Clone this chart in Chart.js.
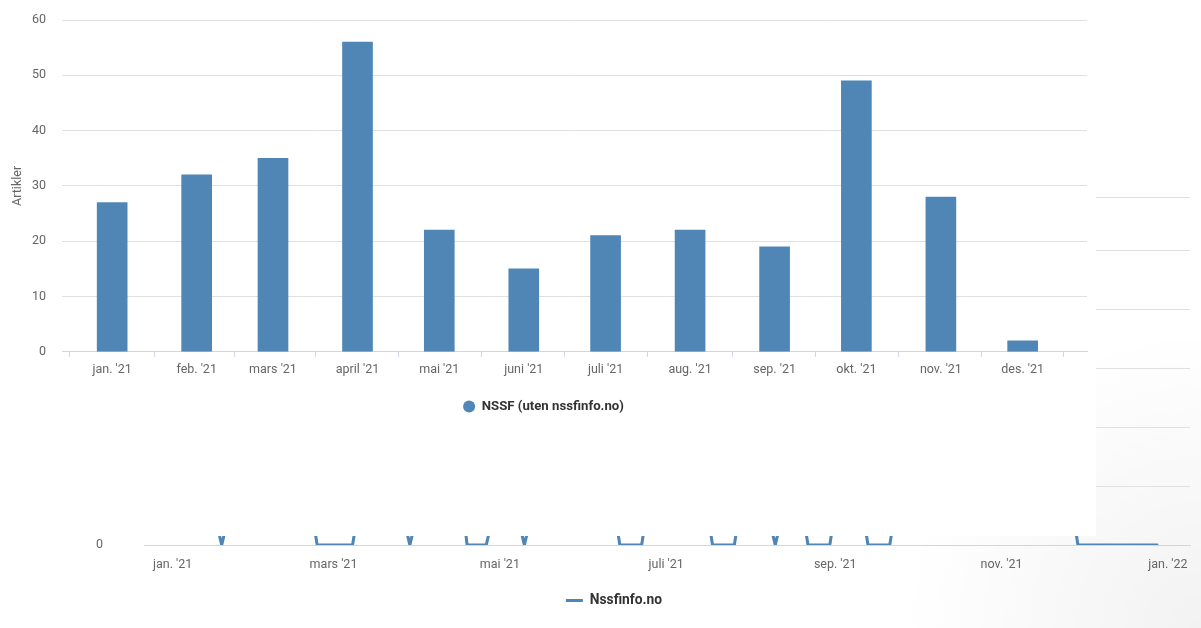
<!DOCTYPE html>
<html lang="no">
<head>
<meta charset="utf-8">
<title>Artikler 2021</title>
<script src="https://cdn.jsdelivr.net/npm/chart.js@4.4.1/dist/chart.umd.min.js"></script>
<style>
  html, body { margin: 0; padding: 0; width: 1201px; height: 628px; overflow: hidden; }
  body {
    position: relative;
    background: radial-gradient(circle at 100% 100%, rgba(0,0,0,0.05) 0, rgba(0,0,0,0) 300px), #fff;
  }
  #daily { position: absolute; left: 0; top: 0; z-index: 1; }
  #monthly { position: absolute; left: 0; top: 0; z-index: 2; background: #fff; }
</style>
</head>
<body>
<canvas id="daily" width="1201" height="640"></canvas>
<canvas id="monthly" width="1096" height="536"></canvas>
<script>
// ---- Monthly NSSF articles (excluding nssfinfo.no) ----
const monthLabels = ["jan. '21", "feb. '21", "mars '21", "april '21", "mai '21", "juni '21",
                     "juli '21", "aug. '21", "sep. '21", "okt. '21", "nov. '21", "des. '21"];
const monthStarts = ['2021-01-01', '2021-02-01', '2021-03-01', '2021-04-01', '2021-05-01', '2021-06-01',
                     '2021-07-01', '2021-08-01', '2021-09-01', '2021-10-01', '2021-11-01', '2021-12-01'];
const nssfArticles = [27, 32, 35, 56, 22, 15, 21, 22, 19, 49, 28, 2];

// ---- Daily Nssfinfo.no articles ----
const dailyTickLabels = ["jan. '21", "mars '21", "mai '21", "juli '21", "sep. '21", "nov. '21", "jan. '22"];
const dailyTickDates  = ['2021-01-01', '2021-03-01', '2021-05-01', '2021-07-01', '2021-09-01', '2021-11-01', '2022-01-01'];
const dailySeriesStart = '2021-01-01';
const nssfinfoJan = [3,2,4,3,5,3,2,4,3,2,3,5,4,2,3,4,3,2,0,2,3,4,2,3,5,3,2,4,3,3,2];
const nssfinfoFeb = [4,3,2,3,5,4,3,2,3,4,3,2,3,4,5,3,2,3,4,3,2,3,0,0,0,0,0,0];
const nssfinfoMar = [0,0,0,0,0,0,0,0,3,4,2,3,5,3,2,4,3,2,3,4,6,3,2,3,4,3,2,2,0,2,3];
const nssfinfoApr = [3,4,2,3,5,3,4,2,3,4,3,2,4,3,5,3,2,4,0,0,0,0,0,0,0,0,2,4,3,2];
const nssfinfoMay = [3,4,3,2,4,3,5,3,2,0,2,4,3,3,2,4,5,3,2,3,4,3,2,3,4,3,5,2,3,4,3];
const nssfinfoJun = [3,2,4,3,5,3,2,4,3,3,4,2,3,0,0,0,0,0,0,0,0,0,3,4,2,3,5,3,4,3];
const nssfinfoJul = [4,3,2,3,5,4,3,2,3,4,3,2,4,3,5,3,3,0,0,0,0,0,0,0,0,0,3,4,2,3,4];
const nssfinfoAug = [3,4,2,3,5,3,2,3,2,0,2,3,4,3,5,2,3,4,3,2,3,0,0,0,0,0,0,0,0,0,3];
const nssfinfoSep = [4,3,2,3,5,3,4,2,3,4,3,3,0,0,0,0,0,0,0,0,0,3,4,2,3,5,3,4,3,2];
const nssfinfoOct = [3,4,2,3,5,3,4,2,3,4,3,2,5,3,4,3,2,3,6,4,3,2,3,4,3,5,2,3,4,3,2];
const nssfinfoNov = [3,4,2,3,5,3,4,3,2,3,4,3,5,2,3,4,3,2,3,4,5,3,2,3,4,3,2,3,0,0];
const nssfinfoDec = [0,0,0,0,0,0,0,0,0,0,0,0,0,0,0,0,0,0,0,0,0,0,0,0,0,0,0,0];

const BLUE = '#4f86b5';
const GRID = '#e0e0e0';
const AXIS = '#ccd6eb';
const LABEL = '#666666';
const LEGEND = '#333333';

Chart.defaults.font.family = 'Roboto, "Noto Sans", sans-serif';

// Day number relative to 1 Jan 2021, used as the x value on both linear axes
const DAY_MS = 86400000;
const dayOf = s => (Date.parse(s) - Date.parse('2021-01-01')) / DAY_MS;

const nssfinfoDaily = [].concat(nssfinfoJan, nssfinfoFeb, nssfinfoMar, nssfinfoApr, nssfinfoMay, nssfinfoJun,
                                nssfinfoJul, nssfinfoAug, nssfinfoSep, nssfinfoOct, nssfinfoNov, nssfinfoDec);
const firstDay = dayOf(dailySeriesStart);

// Fixed-width value axis whose label overhang does not push the plot area
const fixedWidth = w => s => { s.width = w; s.paddingTop = 0; s.paddingBottom = 0; };

// ---- Daily line chart (drawn underneath) ----
new Chart(document.getElementById('daily'), {
  type: 'line',
  data: {
    datasets: [{
      label: 'Nssfinfo.no',
      data: nssfinfoDaily.map((v, i) => ({ x: firstDay + i, y: v })),
      borderColor: BLUE,
      backgroundColor: BLUE,
      borderWidth: 3,
      borderJoinStyle: 'round',
      borderCapStyle: 'round',
      pointRadius: 0,
      tension: 0,
      clip: 0
    }]
  },
  options: {
    responsive: false,
    animation: false,
    devicePixelRatio: 1,
    layout: { padding: { top: 197, right: 11, bottom: 22.6, left: 38 } },
    plugins: {
      tooltip: { enabled: false },
      legend: {
        position: 'bottom',
        labels: {
          usePointStyle: true,
          pointStyle: 'line',
          pointStyleWidth: 17,
          padding: 17.5,
          color: LEGEND,
          font: { size: 13.8, weight: 'bold' }
        }
      }
    },
    scales: {
      x: {
        type: 'linear',
        offset: false,
        min: -10.5,
        max: 373.1,
        afterBuildTicks: s => { s.ticks = dailyTickDates.map(d => ({ value: dayOf(d) })); },
        ticks: {
          autoSkip: false,
          maxRotation: 0,
          padding: 4,
          color: LABEL,
          font: { size: 12.5 },
          callback: v => dailyTickLabels[dailyTickDates.findIndex(d => dayOf(d) === v)]
        },
        grid: { display: false },
        border: { color: AXIS }
      },
      y: {
        min: 0,
        max: 59,
        ticks: { stepSize: 10, padding: 41, color: LABEL, font: { size: 12.5 } },
        grid: { color: GRID, drawTicks: false },
        border: { display: false },
        afterFit: fixedWidth(106)
      }
    }
  }
});

// ---- Monthly bar chart ----
new Chart(document.getElementById('monthly'), {
  type: 'bar',
  data: {
    datasets: [{
      label: 'NSSF (uten nssfinfo.no)',
      data: monthStarts.map((d, i) => ({ x: dayOf(d), y: nssfArticles[i] })),
      backgroundColor: BLUE,
      borderWidth: 0,
      barThickness: 30
    }]
  },
  options: {
    responsive: false,
    animation: false,
    devicePixelRatio: 1,
    layout: { padding: { top: 20, right: 9, bottom: 113, left: 0 } },
    plugins: {
      tooltip: { enabled: false },
      legend: {
        position: 'bottom',
        labels: {
          usePointStyle: true,
          pointStyle: 'circle',
          boxWidth: 12,
          boxHeight: 8.5,
          padding: 16,
          color: LEGEND,
          font: { size: 13.2, weight: 'bold' }
        }
      }
    },
    scales: {
      x: {
        type: 'linear',
        offset: false,
        min: -18.4,
        max: 357.6,
        afterBuildTicks: s => { s.ticks = monthStarts.map(d => ({ value: dayOf(d) })); },
        ticks: {
          autoSkip: false,
          maxRotation: 0,
          padding: 6,
          color: LABEL,
          font: { size: 12.5 },
          callback: v => monthLabels[monthStarts.findIndex(d => dayOf(d) === v)]
        },
        grid: { drawOnChartArea: false, tickLength: 5, color: AXIS },
        border: { color: AXIS }
      },
      y: {
        min: 0,
        max: 60,
        ticks: { stepSize: 10, padding: 16, color: LABEL, font: { size: 12.5 } },
        grid: { color: GRID, drawTicks: false },
        border: { display: false },
        title: {
          display: true,
          text: 'Artikler',
          color: LABEL,
          font: { size: 12.5 },
          padding: { top: 10, bottom: 0 }
        },
        afterFit: fixedWidth(62)
      }
    }
  }
});
</script>
</body>
</html>
